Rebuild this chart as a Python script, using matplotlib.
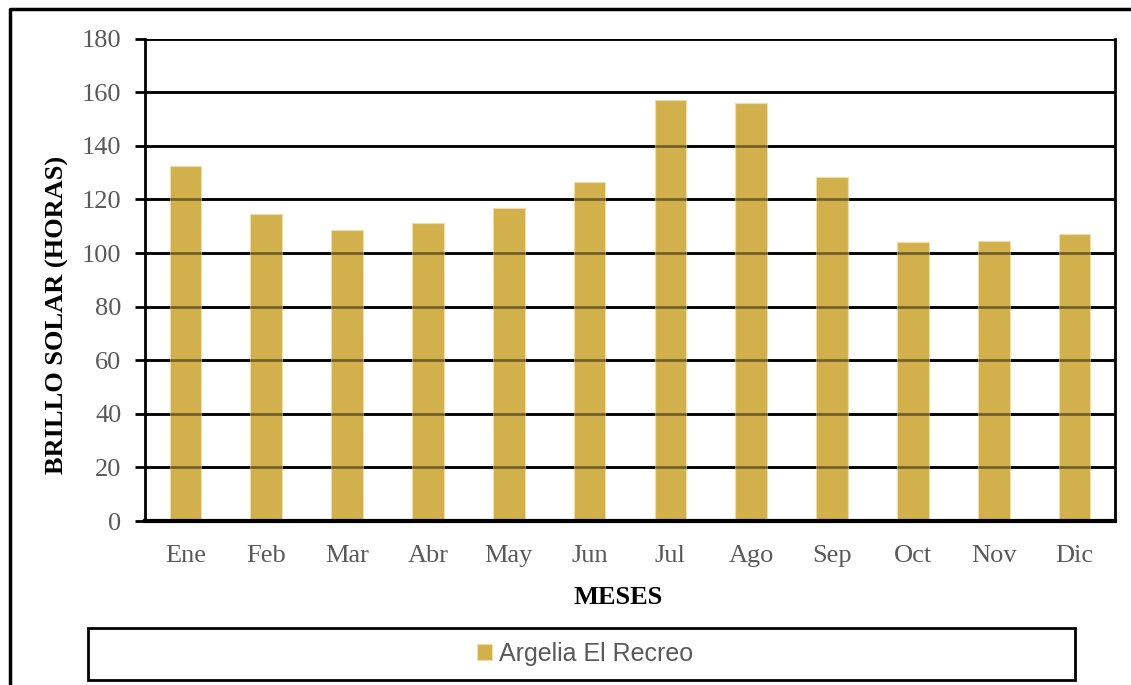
import matplotlib
matplotlib.use("Agg")
import matplotlib.pyplot as plt
from matplotlib.patches import Rectangle
from matplotlib.lines import Line2D

# monthly sunshine hours
meses = ["Ene", "Feb", "Mar", "Abr", "May", "Jun",
         "Jul", "Ago", "Sep", "Oct", "Nov", "Dic"]
brillo = [132.6, 114.4, 108.7, 111.1, 116.8, 126.4,
          157.0, 156.1, 128.2, 104.0, 104.5, 107.2]
serie = "Argelia El Recreo"
yticks = list(range(0, 181, 20))

plt.rcParams["font.family"] = ["Liberation Serif", "DejaVu Serif"]

W, H = 1131, 685
fig = plt.figure(figsize=(W / 100, H / 100), dpi=100)
ax = fig.add_axes([145 / W, 1 - 521 / H, (1115 - 145) / W, (521 - 38.7) / H])

x = range(len(meses))
bars = ax.bar(x, brillo, width=0.39, color="#D2B04C", edgecolor="#EEDDA8",
              linewidth=0.8, zorder=2, label=serie)

# black gridlines under the bars, then a see-through pass on top
# so they show dark brown through the bars
for v in yticks[1:]:
    ax.axhline(v, color="black", linewidth=2, zorder=1)
    ax.axhline(v, color="black", alpha=0.45, linewidth=2, zorder=3)

ax.set_xlim(-0.5, len(meses) - 0.5)
ax.set_ylim(0, 180)
ax.set_yticks(yticks)
ax.set_xticks(list(x))
ax.set_xticklabels(meses)

ax.tick_params(axis="y", length=7, width=2, pad=10, labelsize=19,
               labelcolor="#595959", color="black")
ax.tick_params(axis="x", length=0, pad=17, labelsize=19, labelcolor="#595959")

for side in ["left", "right"]:
    ax.spines[side].set_linewidth(2)
ax.spines["top"].set_visible(False)
ax.spines["bottom"].set_linewidth(3)
ax.spines["bottom"].set_zorder(4)

fig.text(57 / W, 1 - 315 / H, "BRILLO SOLAR (HORAS)", rotation=90,
         ha="center", va="center", fontsize=19, fontweight="bold")
fig.text(618 / W, 1 - 598 / H, "MESES", ha="center", va="center",
         fontsize=19, fontweight="bold")

# legend box
fig.patches.append(Rectangle((88 / W, 1 - 680 / H), (1075 - 88) / W, 52 / H,
                             transform=fig.transFigure, fill=False,
                             edgecolor="black", linewidth=2))
fig.legend(handles=[bars], labels=[serie], loc="center",
           bbox_to_anchor=(585 / W, 1 - 654 / H), frameon=False,
           handlelength=0.6, handleheight=0.6, handletextpad=0.3,
           prop={"family": ["Liberation Sans Narrow", "Liberation Sans"],
                 "size": 18}, labelcolor="#595959")

# outer frame (left and top edges visible)
fig.lines.append(Line2D([10 / W, 10 / W, 1.0], [0.0, 1 - 9 / H, 1 - 9 / H],
                        transform=fig.transFigure, color="black",
                        linewidth=2.5))

fig.savefig("out.png", dpi=100)
